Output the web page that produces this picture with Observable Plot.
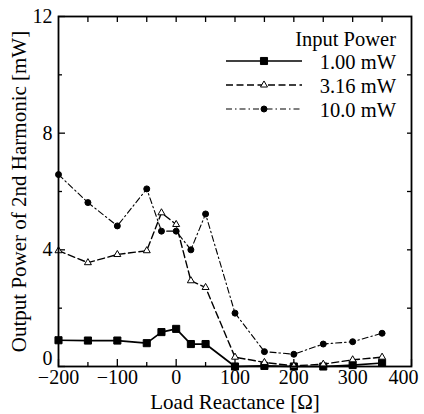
<!DOCTYPE html>
<html>
<head>
<meta charset="utf-8">
<script src="https://cdn.jsdelivr.net/npm/d3@7"></script>
<script src="https://cdn.jsdelivr.net/npm/@observablehq/plot@0.6"></script>
<style>
  body { margin: 0; background: #fff; }
  #chart svg { display: block; }
</style>
</head>
<body>
<div id="chart"></div>
<script>
// Load reactance sweep (Ω) and measured 2nd-harmonic output power (mW)
const reactance = [-200, -150, -100, -50, -25, 0, 25, 50, 100, 150, 200, 250, 300, 350];
const power100 = [0.90, 0.89, 0.89, 0.80, 1.18, 1.29, 0.77, 0.77, 0.00, 0.02, 0.00, 0.00, 0.05, 0.12];
const power316 = [3.97, 3.56, 3.84, 3.97, 5.27, 4.87, 2.94, 2.71, 0.32, 0.14, 0.02, 0.08, 0.23, 0.32];
const power1000 = [6.58, 5.62, 4.82, 6.09, 4.64, 4.64, 4.00, 5.23, 1.83, 0.51, 0.42, 0.77, 0.85, 1.14];

const seriesNames = ["1.00 mW", "3.16 mW", "10.0 mW"];
const legendTitle = "Input Power";
const xTicks = [-200, -100, 0, 100, 200, 300, 400];
const xTickLabels = [-200, -100, 0, 100, 200, 300];
const xEndLabel = [400];
const xMinorTicks = [-150, -50, 50, 150, 250, 350];
const xAllTicks = [-150, -100, -50, 0, 50, 100, 150, 200, 250, 300, 350];
const yTicks = [4, 8, 12];
const yZeroTick = [0];
const yMinorTicks = [2, 6, 10];
const yAllTicks = [2, 4, 6, 8, 10];

const seriesValues = [power100, power316, power1000];
const styles = [
  {dash: null, width: 1.7, symbol: "square", r: 4, fill: "black"},
  {dash: "7,3.5", width: 1.4, symbol: "triangle", r: 2.6, fill: "white"},
  {dash: "6,3,1.5,3", width: 1.1, symbol: "circle", r: 3, fill: "black"}
];

const rows = seriesNames.map((name, i) =>
  reactance.map((x, j) => ({x, y: seriesValues[i][j], series: name}))
);

const W = 424, H = 414;
const margin = {top: 16, right: 13, bottom: 48, left: 58};
const font = "'Liberation Serif', 'Times New Roman', serif";

const marks = [];
rows.forEach((data, i) => {
  const s = styles[i];
  marks.push(Plot.line(data, {x: "x", y: "y", stroke: "black", strokeWidth: s.width, strokeDasharray: s.dash}));
  marks.push(Plot.dot(data, {x: "x", y: "y", symbol: () => s.symbol, r: s.r, fill: s.fill, stroke: "black", strokeWidth: 1}));
});

const chart = Plot.plot({
  width: W,
  height: H,
  marginTop: margin.top,
  marginRight: margin.right,
  marginBottom: margin.bottom,
  marginLeft: margin.left,
  style: {fontFamily: font, fontSize: "20px", color: "black", background: "white"},
  x: {domain: [-200, 400], label: "Load Reactance [Ω]", labelArrow: "none"},
  y: {domain: [0, 12], label: "Output Power of 2nd Harmonic [mW]", labelArrow: "none"},
  symbol: {type: "identity"},
  marks: [
    // inward ticks on all four sides
    Plot.axisX(xTicks, {anchor: "bottom", tickSize: -7, text: null, label: null, strokeWidth: 1.3}),
    Plot.axisX(xMinorTicks, {anchor: "bottom", tickSize: -4, text: null, label: null, strokeWidth: 1.3}),
    Plot.axisX(xAllTicks, {anchor: "top", tickSize: -5, text: null, label: null, strokeWidth: 1.3}),
    Plot.axisY([0, ...yTicks], {anchor: "left", tickSize: -7, text: null, label: null, strokeWidth: 1.3}),
    Plot.axisY(yMinorTicks, {anchor: "left", tickSize: -4, text: null, label: null, strokeWidth: 1.3}),
    Plot.axisY(yAllTicks, {anchor: "right", tickSize: -5, text: null, label: null, strokeWidth: 1.3}),
    // tick labels
    Plot.axisX(xTickLabels, {anchor: "bottom", tickSize: 0, tickPadding: 3, label: null, fontSize: 20}),
    Plot.axisX(xEndLabel, {anchor: "bottom", tickSize: 0, tickPadding: 3, label: null, fontSize: 20, dx: -8}),
    Plot.axisY(yTicks, {anchor: "left", tickSize: 0, tickPadding: 6, label: null, fontSize: 20}),
    Plot.axisY(yZeroTick, {anchor: "left", tickSize: 0, tickPadding: 6, label: null, fontSize: 20, dy: -8}),
    // axis titles
    Plot.axisX({anchor: "bottom", ticks: [], tickSize: 0, labelAnchor: "center", labelOffset: 42, labelArrow: "none", fontSize: 21}),
    Plot.axisY({anchor: "left", ticks: [], tickSize: 0, labelAnchor: "center", labelOffset: 47, labelArrow: "none", fontSize: 21}),
    ...marks,
    Plot.frame({stroke: "black", strokeWidth: 1.8})
  ]
});

// Legend in the upper right of the frame
const svg = d3.select(chart);
const frameRight = W - margin.right;
const lg = svg.append("g").attr("font-family", font).attr("font-size", 20.5).attr("fill", "black");
lg.append("text").attr("x", frameRight - 15).attr("y", 46).attr("text-anchor", "end").text(legendTitle);
seriesNames.forEach((name, i) => {
  const s = styles[i];
  const cy = 61 + i * 24;
  const x1 = frameRight - 185, x2 = frameRight - 109, xm = (x1 + x2) / 2;
  lg.append("line").attr("x1", x1).attr("x2", x2).attr("y1", cy).attr("y2", cy)
    .attr("stroke", "black").attr("stroke-width", s.width)
    .attr("stroke-dasharray", s.dash);
  const type = s.symbol === "square" ? d3.symbolSquare : s.symbol === "triangle" ? d3.symbolTriangle : d3.symbolCircle;
  lg.append("path").attr("transform", `translate(${xm},${cy})`)
    .attr("d", d3.symbol().type(type).size(Math.PI * s.r * s.r)())
    .attr("fill", s.fill).attr("stroke", "black");
  lg.append("text").attr("x", frameRight - 15).attr("y", cy + 7.5).attr("text-anchor", "end").text(name);
});

document.getElementById("chart").append(chart);
</script>
</body>
</html>
